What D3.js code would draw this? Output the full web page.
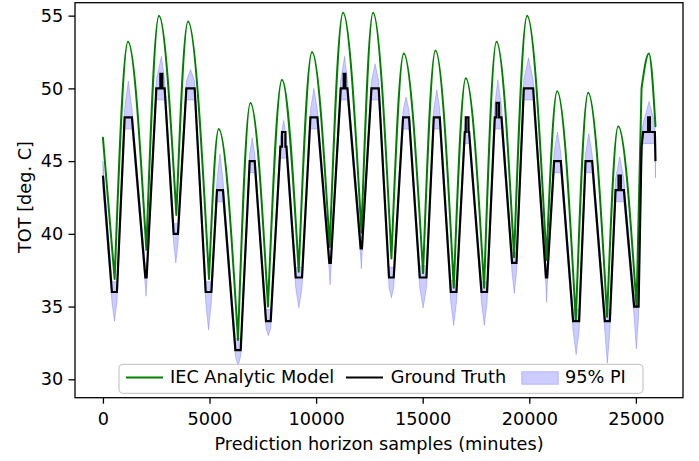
<!DOCTYPE html>
<html><head><meta charset="utf-8">
<script src="https://cdn.jsdelivr.net/npm/d3@7"></script>
<style>
body{margin:0;background:#fff}
svg{display:block}
text{font-family:"DejaVu Sans",sans-serif;fill:#000}
</style>
</head><body>
<svg id="chart" width="699" height="461"></svg>
<script>
// ---------------- data ----------------
const xTicks = [0, 5000, 10000, 15000, 20000, 25000];
const yTicks = [30, 35, 40, 45, 50, 55];
const legendLabels = ["IEC Analytic Model", "Ground Truth", "95% PI"];

// IEC analytic model: start, daily troughs / peaks, late jump and end
const greenStart = [0, 46.6];
const greenTroughT = [549, 2036, 3444, 4975, 6336, 7743, 9184, 10638, 12125, 13533, 15017, 16457, 17880, 19287, 20807, 22182, 23650, 25030];
const greenTroughV = [36.9, 38.9, 41.3, 36.9, 32.7, 35.0, 37.4, 39.1, 40.1, 38.3, 37.3, 36.3, 36.3, 38.4, 38.2, 34.0, 34.3, 35.0];
const greenPeakT = [1173, 2628, 3989, 5430, 6917, 8400, 9808, 11262, 12670, 14111, 15598, 17020, 18461, 19897, 21305, 22760, 24168, 25608];
const greenPeakV = [53.2, 55.0, 54.6, 47.2, 49.0, 50.6, 52.5, 55.2, 55.2, 52.4, 52.6, 50.7, 53.2, 55.0, 49.8, 49.7, 47.4, 52.4];
const greenJump = [25265, 50.0];
const greenEnd = [25919, 47.4];

// Ground truth: start, trough plateaus, peak plateaus, short spikes, tail
const gtStart = [0, 44];
const gtTroughV = [36, 37, 40, 36, 32, 34, 37, 38, 39, 37, 37, 36, 36, 38, 37, 34, 34, 35];
const gtTroughStart = [422, 1990, 3318, 4820, 6213, 7650, 9043, 10620, 12090, 13420, 14862, 16317, 17757, 19193, 20780, 22056, 23543, 24918];
const gtTroughEnd = [657, 2050, 3520, 5087, 6462, 7870, 9339, 10690, 12150, 13641, 15176, 16584, 18020, 19400, 20840, 22338, 23778, 25125];
const gtPeakV = [48, 50, 50, 43, 45, 46, 48, 50, 50, 48, 48, 47, 48, 50, 45, 45, 43, 47];
const gtPeakStart = [1018, 2505, 3913, 5350, 6884, 8325, 9733, 11155, 12595, 14078, 15519, 16974, 18381, 19743, 21164, 22638, 24046, 25340];
const gtPeakEnd = [1361, 2895, 4303, 5631, 7119, 8607, 10061, 11469, 12938, 14360, 15800, 17176, 18696, 20180, 21479, 22947, 24436, 25890];
const gtSpikeV = [null, 51, null, null, null, 47, null, 51, null, null, null, 48, 49, null, null, null, 44, 48];
const gtSpikeStart = [null, 2694, null, null, null, 8400, null, 11295, null, null, null, 17020, 18461, null, null, null, 24187, 25575];
const gtSpikeEnd = [null, 2787, null, null, null, 8560, null, 11375, null, null, null, 17147, 18583, null, null, null, 24295, 25655];
const gtJump = [25265, 46];
const gtTailT = [25905, 25919];
const gtTailV = [46, 45];

// 95% prediction interval
const bandStart = [0, 43.0, 45.0];            // [t, lower, upper]
const bandLoTroughEdge = [35.3, 36.4, 39.3, 35.3, 31.6, 33.5, 36.3, 37.4, 38.4, 36.3, 36.3, 35.3, 35.3, 37.3, 36.4, 33.3, 33.3, 34.3];
const bandHiTroughEdge = [36.7, 37.8, 40.7, 36.7, 32.8, 34.8, 37.7, 38.8, 39.8, 37.7, 37.8, 36.8, 36.7, 38.7, 37.8, 34.8, 34.8, 35.8];
const bandLoTroughTip = [34.0, 35.7, 38.0, 33.4, 30.9, 33.0, 34.9, 36.5, 37.6, 35.6, 34.9, 33.7, 33.7, 35.9, 35.3, 31.7, 31.1, 32.1];
const bandLoPeakEdge = [47.2, 49.2, 49.2, 42.2, 44.2, 45.2, 47.2, 49.2, 49.2, 47.2, 47.2, 46.2, 47.2, 49.2, 44.2, 44.2, 42.2, 46.2];
const bandHiPeakEdge = [48.6, 50.6, 50.5, 43.7, 45.5, 46.6, 48.5, 50.6, 50.5, 48.5, 48.6, 47.5, 48.8, 50.6, 45.6, 45.5, 43.8, 47.6];
const bandHiPeakTip = [50.5, 52.2, 51.3, 45.5, 46.6, 47.8, 50.0, 52.2, 51.7, 49.4, 49.9, 48.1, 50.6, 52.1, 47.0, 46.9, 45.3, 49.1];
const bandJump = [25265, 44.8, 47.0];
const bandEnd = [25919, 43.85, 45.6];

// ---------------- chart ----------------
const svg = d3.select("#chart");
const L = 75, R = 683, T = 2.7, B = 397.7;
const x = d3.scaleLinear().domain([-1310, 27210]).range([L, R]);
const y = d3.scaleLinear().domain([28.735, 55.89]).range([B, T]);
const FS = 17.7;

svg.append("defs").append("clipPath").attr("id", "clip")
  .append("rect").attr("x", L).attr("y", T).attr("width", R - L).attr("height", B - T);
const plot = svg.append("g").attr("clip-path", "url(#clip)");

const arc = d3.line().x(d => x(d[0])).y(d => y(d[1])).curve(d3.curveMonotoneX);
const lin = d3.line().x(d => x(d[0])).y(d => y(d[1]));
const n = greenTroughT.length;

// prediction interval band (drawn underneath)
const band = [bandStart];
for (let k = 0; k < n; k++) {
  const tc = (gtTroughStart[k] + gtTroughEnd[k]) / 2;
  band.push([gtTroughStart[k], bandLoTroughEdge[k], bandHiTroughEdge[k]]);
  band.push([tc, bandLoTroughTip[k], bandHiTroughEdge[k]]);
  band.push([gtTroughEnd[k], bandLoTroughEdge[k], bandHiTroughEdge[k]]);
  if (k === n - 1) band.push(bandJump);
  const pc = gtSpikeV[k] !== null ? (gtSpikeStart[k] + gtSpikeEnd[k]) / 2 : (gtPeakStart[k] + gtPeakEnd[k]) / 2;
  band.push([gtPeakStart[k], bandLoPeakEdge[k], bandHiPeakEdge[k]]);
  band.push([pc, bandLoPeakEdge[k], bandHiPeakTip[k]]);
  band.push([gtPeakEnd[k], bandLoPeakEdge[k], bandHiPeakEdge[k]]);
}
band.push(bandEnd);
const area = d3.area().x(d => x(d[0])).y0(d => y(d[1])).y1(d => y(d[2]));
plot.append("path").attr("d", area(band))
  .attr("fill", "blue").attr("fill-opacity", 0.2)
  .attr("stroke", "blue").attr("stroke-opacity", 0.2).attr("stroke-width", 1);

// green model: one monotone arc per day, joined at sharp troughs
let gPath = lin([greenStart, [greenTroughT[0], greenTroughV[0]]]);
for (let k = 0; k < n - 1; k++) {
  gPath += arc([[greenTroughT[k], greenTroughV[k]], [greenPeakT[k], greenPeakV[k]], [greenTroughT[k + 1], greenTroughV[k + 1]]]);
}
gPath += lin([[greenTroughT[n - 1], greenTroughV[n - 1]], greenJump]);
gPath += arc([greenJump, [greenPeakT[n - 1], greenPeakV[n - 1]], greenEnd]);
plot.append("path").attr("d", gPath).attr("fill", "none")
  .attr("stroke", "#008000").attr("stroke-width", 2).attr("stroke-linejoin", "round").attr("stroke-linecap", "round");

// ground truth polyline
const gt = [gtStart];
for (let k = 0; k < n; k++) {
  gt.push([gtTroughStart[k], gtTroughV[k]], [gtTroughEnd[k], gtTroughV[k]]);
  if (k === n - 1) gt.push(gtJump);
  gt.push([gtPeakStart[k], gtPeakV[k]]);
  if (gtSpikeV[k] !== null) {
    gt.push([gtSpikeStart[k], gtPeakV[k]], [gtSpikeStart[k], gtSpikeV[k]], [gtSpikeEnd[k], gtSpikeV[k]], [gtSpikeEnd[k], gtPeakV[k]]);
  }
  gt.push([gtPeakEnd[k], gtPeakV[k]]);
}
gtTailT.forEach((t, i) => gt.push([t, gtTailV[i]]));
plot.append("path").attr("d", lin(gt)).attr("fill", "none")
  .attr("stroke", "#000").attr("stroke-width", 2.2).attr("stroke-linejoin", "miter");

// axes
const xAxis = svg.append("g").attr("transform", `translate(0,${B})`)
  .call(d3.axisBottom(x).tickValues(xTicks).tickFormat(d3.format("d")).tickSize(6).tickPadding(8.7));
const yAxis = svg.append("g").attr("transform", `translate(${L},0)`)
  .call(d3.axisLeft(y).tickValues(yTicks).tickFormat(d3.format("d")).tickSize(6.5).tickPadding(5.2));
[xAxis, yAxis].forEach(a => {
  a.select(".domain").remove();
  a.selectAll(".tick line").attr("stroke", "#000").attr("stroke-width", 1.3);
  a.selectAll(".tick text").attr("font-size", FS).attr("font-family", "DejaVu Sans").attr("fill", "#000");
});

svg.append("rect").attr("x", L).attr("y", T).attr("width", R - L).attr("height", B - T)
  .attr("fill", "none").attr("stroke", "#000").attr("stroke-width", 1.3);

// axis labels
svg.append("text").attr("x", 379).attr("y", 450).attr("text-anchor", "middle")
  .attr("font-size", FS).text("Prediction horizon samples (minutes)");
svg.append("text").attr("transform", "translate(30.5,197) rotate(-90)").attr("text-anchor", "middle")
  .attr("font-size", FS).text("TOT [deg. C]");

// legend
const lg = svg.append("g");
lg.append("rect").attr("x", 119).attr("y", 364.3).attr("width", 524).attr("height", 29).attr("rx", 4)
  .attr("fill", "#fff").attr("fill-opacity", 0.8).attr("stroke", "#cccccc").attr("stroke-width", 1.3);
lg.append("line").attr("x1", 126).attr("x2", 163).attr("y1", 377.5).attr("y2", 377.5)
  .attr("stroke", "#008000").attr("stroke-width", 2);
lg.append("text").attr("x", 170).attr("y", 383.3).attr("font-size", FS).text(legendLabels[0]);
lg.append("line").attr("x1", 346).attr("x2", 383).attr("y1", 377.5).attr("y2", 377.5)
  .attr("stroke", "#000").attr("stroke-width", 2);
lg.append("text").attr("x", 390.7).attr("y", 383.3).attr("font-size", FS).text(legendLabels[1]);
lg.append("rect").attr("x", 521.7).attr("y", 371.7).attr("width", 36.6).attr("height", 12.6)
  .attr("fill", "blue").attr("fill-opacity", 0.2).attr("stroke", "blue").attr("stroke-opacity", 0.2).attr("stroke-width", 1);
lg.append("text").attr("x", 565).attr("y", 383.3).attr("font-size", FS).text(legendLabels[2]);
</script>
</body></html>
